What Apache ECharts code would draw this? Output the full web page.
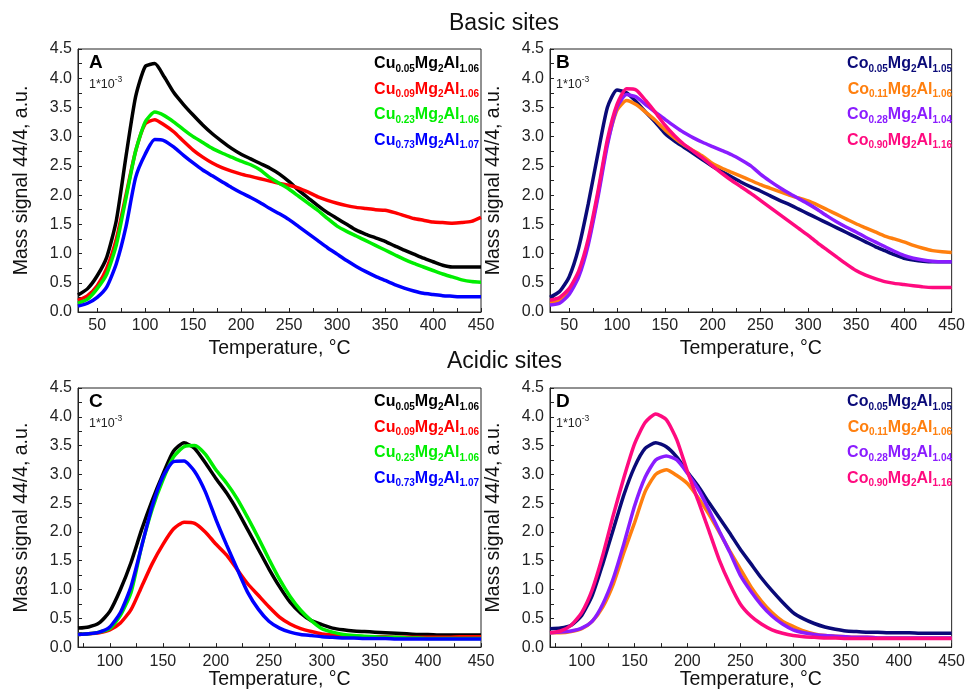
<!DOCTYPE html>
<html>
<head>
<meta charset="utf-8">
<script src="https://cdn.jsdelivr.net/npm/echarts@6/dist/echarts.min.js"></script>
<style>
html,body{margin:0;padding:0;background:#fff;}
#chart{width:968px;height:691px;}
</style>
</head>
<body>
<div id="chart"></div>
<script>
// ---------- DATA ----------
const tempBasic = [30,40,50,60,70,80,90,100,110,120,130,140,150,160,170,180,190,200,210,220,230,240,250,260,270,280,290,300,310,320,330,340,350,360,370,380,390,400,410,420,430,440,450];
const tempAcidic = [70,80,90,100,110,120,130,140,150,160,170,180,190,200,210,220,230,240,250,260,270,280,290,300,310,320,330,340,350,360,370,380,390,400,410,420,430,440,450];

// Panel A (basic, Cu)
const basicCu005 = [0.29,0.4,0.62,0.94,1.57,2.66,3.68,4.2,4.25,4.02,3.75,3.55,3.37,3.2,3.05,2.92,2.8,2.7,2.62,2.54,2.46,2.36,2.23,2.08,1.95,1.82,1.7,1.6,1.5,1.4,1.33,1.27,1.21,1.13,1.06,0.99,0.92,0.86,0.8,0.77,0.77,0.77,0.77];
const basicCu009 = [0.2,0.28,0.45,0.75,1.25,2.0,2.75,3.22,3.29,3.2,3.08,2.92,2.77,2.65,2.55,2.47,2.41,2.36,2.32,2.28,2.24,2.2,2.17,2.12,2.05,1.97,1.91,1.86,1.82,1.79,1.77,1.75,1.74,1.7,1.65,1.6,1.57,1.54,1.53,1.52,1.53,1.55,1.62];
const basicCu023 = [0.15,0.22,0.4,0.65,1.15,1.95,2.75,3.25,3.42,3.36,3.25,3.12,3.0,2.9,2.8,2.72,2.65,2.58,2.52,2.43,2.3,2.2,2.1,1.98,1.86,1.74,1.6,1.47,1.38,1.3,1.22,1.14,1.06,0.98,0.9,0.83,0.77,0.71,0.65,0.6,0.55,0.52,0.51];
const basicCu073 = [0.1,0.15,0.25,0.43,0.83,1.46,2.3,2.7,2.95,2.93,2.82,2.68,2.55,2.43,2.33,2.23,2.13,2.04,1.96,1.87,1.77,1.68,1.58,1.46,1.34,1.22,1.1,0.99,0.88,0.78,0.69,0.61,0.54,0.47,0.41,0.36,0.32,0.3,0.28,0.27,0.26,0.26,0.26];

// Panel B (basic, Co)
const basicCo005 = [0.25,0.35,0.6,1.1,1.85,2.7,3.5,3.8,3.75,3.6,3.42,3.25,3.06,2.93,2.82,2.71,2.6,2.49,2.4,2.31,2.22,2.14,2.07,1.99,1.91,1.84,1.76,1.68,1.6,1.52,1.44,1.36,1.28,1.2,1.12,1.05,0.98,0.92,0.89,0.87,0.86,0.86,0.86];
const basicCo011 = [0.15,0.2,0.35,0.65,1.2,2.0,2.9,3.45,3.62,3.55,3.42,3.28,3.12,2.98,2.86,2.76,2.66,2.54,2.46,2.39,2.32,2.25,2.18,2.12,2.06,2.0,1.95,1.9,1.83,1.75,1.67,1.59,1.51,1.44,1.37,1.3,1.25,1.2,1.14,1.09,1.05,1.03,1.02];
const basicCo028 = [0.12,0.15,0.3,0.6,1.15,1.95,2.85,3.5,3.72,3.68,3.55,3.42,3.3,3.18,3.07,2.98,2.9,2.83,2.76,2.69,2.6,2.5,2.36,2.24,2.13,2.03,1.94,1.85,1.75,1.64,1.54,1.45,1.37,1.28,1.2,1.12,1.04,0.97,0.92,0.89,0.87,0.86,0.86];
const basicCo090 = [0.2,0.25,0.4,0.7,1.25,2.05,2.95,3.55,3.82,3.8,3.62,3.42,3.2,3.02,2.87,2.75,2.63,2.5,2.37,2.25,2.14,2.03,1.91,1.79,1.67,1.55,1.43,1.31,1.18,1.06,0.94,0.82,0.71,0.63,0.57,0.52,0.49,0.47,0.45,0.43,0.42,0.42,0.42];

// Panel C (acidic, Cu)
const acidicCu005 = [0.33,0.35,0.42,0.62,1.0,1.47,2.04,2.55,3.0,3.4,3.55,3.45,3.2,2.93,2.68,2.38,2.04,1.7,1.36,1.05,0.78,0.59,0.46,0.39,0.33,0.3,0.28,0.27,0.26,0.25,0.24,0.23,0.22,0.22,0.21,0.21,0.21,0.21,0.21];
const acidicCu009 = [0.22,0.23,0.25,0.3,0.42,0.65,1.05,1.45,1.78,2.05,2.17,2.15,2.0,1.79,1.6,1.35,1.1,0.9,0.7,0.52,0.4,0.32,0.27,0.23,0.21,0.2,0.19,0.18,0.18,0.18,0.17,0.17,0.17,0.17,0.17,0.17,0.18,0.18,0.18];
const acidicCu023 = [0.22,0.23,0.26,0.32,0.55,0.95,1.75,2.4,2.9,3.3,3.48,3.5,3.35,3.08,2.85,2.58,2.25,1.9,1.53,1.18,0.88,0.64,0.46,0.32,0.26,0.22,0.2,0.19,0.18,0.17,0.17,0.16,0.16,0.15,0.15,0.15,0.15,0.15,0.15];
const acidicCu073 = [0.22,0.23,0.26,0.35,0.6,1.05,1.75,2.45,2.96,3.22,3.23,3.05,2.7,2.22,1.78,1.36,0.95,0.66,0.45,0.33,0.26,0.22,0.2,0.18,0.17,0.16,0.16,0.15,0.15,0.15,0.14,0.14,0.14,0.14,0.14,0.14,0.14,0.14,0.14];

// Panel D (acidic, Co)
const acidicCo005 = [0.32,0.33,0.38,0.55,0.9,1.45,2.05,2.65,3.13,3.45,3.55,3.48,3.3,3.04,2.8,2.52,2.25,1.98,1.7,1.45,1.2,0.98,0.78,0.6,0.49,0.41,0.35,0.31,0.28,0.27,0.26,0.26,0.25,0.25,0.25,0.24,0.24,0.24,0.24];
const acidicCo011 = [0.25,0.25,0.27,0.32,0.45,0.7,1.1,1.65,2.16,2.7,3.0,3.08,2.98,2.84,2.6,2.32,2.0,1.67,1.36,1.05,0.8,0.6,0.45,0.36,0.28,0.23,0.2,0.19,0.18,0.17,0.17,0.16,0.16,0.16,0.16,0.16,0.16,0.16,0.16];
const acidicCo028 = [0.25,0.26,0.28,0.33,0.45,0.75,1.2,1.8,2.45,2.95,3.25,3.32,3.25,3.02,2.75,2.4,2.02,1.65,1.25,0.97,0.73,0.54,0.4,0.3,0.25,0.22,0.2,0.19,0.18,0.17,0.17,0.16,0.16,0.16,0.16,0.16,0.16,0.16,0.16];
const acidicCo090 = [0.25,0.28,0.38,0.6,1.0,1.6,2.3,2.95,3.53,3.9,4.05,3.95,3.6,3.05,2.55,2.04,1.52,1.1,0.75,0.54,0.4,0.3,0.24,0.2,0.18,0.17,0.16,0.16,0.15,0.15,0.15,0.15,0.15,0.15,0.15,0.15,0.15,0.15,0.15];

// Tick labels
const xLabelsBasic = [50,100,150,200,250,300,350,400,450];
const xLabelsAcidic = [100,150,200,250,300,350,400,450];
const yLabels = [0,0.5,1,1.5,2,2.5,3,3.5,4,4.5];

// Legend names (base, sub1, sub2, sub3)
const cuNames = [['Cu','0.05','2','1.06'],['Cu','0.09','2','1.06'],['Cu','0.23','2','1.06'],['Cu','0.73','2','1.07']];
const coNames = [['Co','0.05','2','1.05'],['Co','0.11','2','1.06'],['Co','0.28','2','1.04'],['Co','0.90','2','1.16']];
const cuColors = ['#000000','#ff0000','#00ee00','#0000ff'];
const coColors = ['#0a0a78','#ff7f0e','#8a1cff','#ff0a7f'];

// ---------- CHART ----------
const FONT = 'Arial, "Liberation Sans", sans-serif';
const chart = echarts.init(document.getElementById('chart'), null, {renderer:'canvas'});

const grids = [
  {left:78, top:49, width:403, height:263},
  {left:550, top:49, width:402, height:263},
  {left:78, top:388, width:403, height:263},
  {left:550, top:388, width:402, height:263}
].map(g => Object.assign({show:true, borderColor:'#222', borderWidth:1, backgroundColor:'transparent'}, g));

function minorTicks(from, to, step){
  const out=[]; for(let v=from; v<=to+1e-9; v+=step) out.push(+v.toFixed(4)); return out;
}

function xAxis(i, min, labels){
  return {
    type:'value', gridIndex:i, min:min, max:450,
    name:'Temperature, °C', nameLocation:'middle', nameGap: i<2 ? 27 : 22,
    nameTextStyle:{fontSize:19.5, color:'#111', fontFamily:FONT},
    axisLine:{show:true, lineStyle:{color:'#222', width:1}},
    axisTick:{show:true, inside:true, length:4, lineStyle:{color:'#222'},
      customValues: minorTicks(min<50?50:75, 450, 25)},
    axisLabel:{show:true, fontSize:16, color:'#222', fontFamily:FONT, margin:6,
      customValues: labels, formatter: v => String(v)},
    splitLine:{show:false}
  };
}
function yAxis(i){
  return {
    type:'value', gridIndex:i, min:0, max:4.5, interval:0.5,
    name:'Mass signal 44/4, a.u.', nameLocation:'middle', nameGap:46,
    nameTextStyle:{fontSize:19.5, color:'#111', fontFamily:FONT},
    axisLine:{show:true, lineStyle:{color:'#222', width:1}},
    axisTick:{show:true, inside:true, length:4, lineStyle:{color:'#222'},
      customValues: minorTicks(0, 4.5, 0.25)},
    axisLabel:{show:true, fontSize:16, color:'#222', fontFamily:FONT, margin:6,
      customValues: yLabels, formatter: v => v.toFixed(1)},
    splitLine:{show:false}
  };
}

function pairs(t, v){ return t.map((x,k)=>[x, v[k]]); }
function line(i, t, v, color){
  return {type:'line', xAxisIndex:i, yAxisIndex:i, data:pairs(t,v), showSymbol:false,
    smooth:0.2, lineStyle:{color:color, width:3.5}, itemStyle:{color:color},
    silent:true, animation:false};
}

const series = [];
[basicCu005,basicCu009,basicCu023,basicCu073].forEach((v,k)=>series.push(line(0,tempBasic,v,cuColors[k])));
[basicCo005,basicCo011,basicCo028,basicCo090].forEach((v,k)=>series.push(line(1,tempBasic,v,coColors[k])));
[acidicCu005,acidicCu009,acidicCu023,acidicCu073].forEach((v,k)=>series.push(line(2,tempAcidic,v,cuColors[k])));
[acidicCo005,acidicCo011,acidicCo028,acidicCo090].forEach((v,k)=>series.push(line(3,tempAcidic,v,coColors[k])));

function legendText(n){ return '{m|'+n[0]+'}{s|'+n[1]+'}{m|Mg}{s|'+n[2]+'}{m|Al}{s|'+n[3]+'}'; }
function legendBlock(names, colors, right, top){
  return names.map((n,k)=>({
    type:'text', right: right, top: top + k*25.5,
    style:{text:legendText(n), fontFamily:FONT,
      rich:{
        m:{fontSize:16, fontWeight:'bold', fill:colors[k], fontFamily:FONT, lineHeight:20, verticalAlign:'middle'},
        s:{fontSize:10, fontWeight:'bold', fill:colors[k], fontFamily:FONT, lineHeight:10, verticalAlign:'bottom', padding:[9,0,0,0]}
      }}
  }));
}
function panelLabel(letter, x, y){
  return [
    {type:'text', left:x, top:y, style:{text:letter, font:'bold 19px '+FONT, fill:'#000'}},
    {type:'text', left:x, top:y+22, style:{text:'{a|1*10}{b|-3}', rich:{
      a:{fontSize:12.5, fill:'#222', fontFamily:FONT, lineHeight:16, verticalAlign:'bottom'},
      b:{fontSize:8.5, fill:'#222', fontFamily:FONT, lineHeight:16, verticalAlign:'top'}}}}
  ];
}

const graphic = [].concat(
  [{type:'text', left:449, top:12, style:{text:'Basic sites', font:'23px '+FONT, fill:'#111'}},
   {type:'text', left:447, top:350, style:{text:'Acidic sites', font:'23px '+FONT, fill:'#111'}}],
  legendBlock(cuNames, cuColors, 968-479, 55),
  legendBlock(coNames, coColors, 968-952, 55),
  legendBlock(cuNames, cuColors, 968-479, 393),
  legendBlock(coNames, coColors, 968-952, 393),
  panelLabel('A', 89, 53),
  panelLabel('B', 556, 53),
  panelLabel('C', 89, 392),
  panelLabel('D', 556, 392)
);

chart.setOption({
  backgroundColor:'#fff',
  animation:false,
  grid: grids,
  xAxis:[xAxis(0,30,xLabelsBasic), xAxis(1,30,xLabelsBasic), xAxis(2,70,xLabelsAcidic), xAxis(3,70,xLabelsAcidic)],
  yAxis:[yAxis(0), yAxis(1), yAxis(2), yAxis(3)],
  series: series,
  graphic: graphic
});
</script>
</body>
</html>
